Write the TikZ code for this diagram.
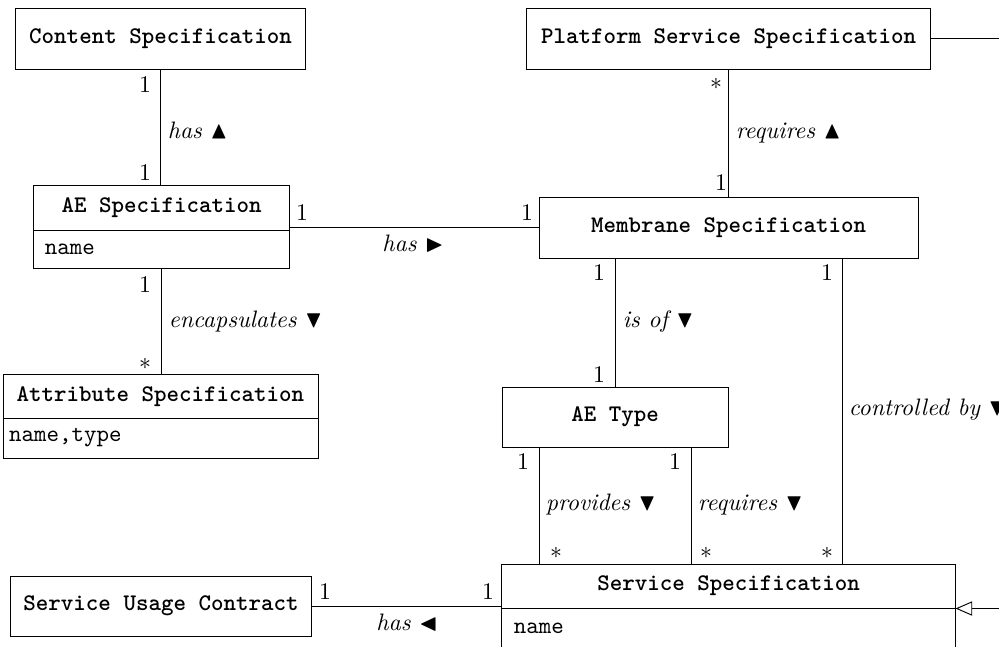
\documentclass[tikz,border=0pt]{standalone}
\usepackage{amsmath}
\usepackage{xcolor}
\usepackage{amssymb}
\usepackage{tikz}
\usetikzlibrary{arrows.meta,positioning}

\begin{document}
\begin{tikzpicture}[x=0.42pt,y=0.42pt,yscale=-1,xscale=1,
  cls/.style={draw, rectangle, font=\ttfamily\bfseries, inner sep=0pt},
  attrbox/.style={draw, rectangle, font=\ttfamily, inner ysep=0pt, inner xsep=5pt, align=left},
  role/.style={font=\itshape, anchor=west, inner sep=1pt},
  mult/.style={inner sep=0pt}]
\useasboundingbox (0,0) rectangle (999,646);
\clip (0,0) rectangle (999,646);

% classes
\node[cls, minimum width=121.4pt, minimum height=25.6pt] (cs) at (160.5,38.5) {Content Specification};
\node[cls, minimum width=169.3pt, minimum height=25.6pt] (pss) at (728.5,38.5) {Platform Service Specification};

\node[cls, minimum width=107.9pt, minimum height=18.9pt] (aes) at (161.5,207.5) {AE Specification};
\node[attrbox, text width=97.9pt, minimum height=16pt, below=-0.4pt of aes] (aesa) {name};

\node[cls, minimum width=132.3pt, minimum height=18.1pt] (ats) at (160.5,396.5) {Attribute Specification};
\node[attrbox, inner xsep=2.6pt, text width=127.1pt, minimum height=16.8pt, below=-0.4pt of ats] (atsa) {name,type};

\node[cls, minimum width=159.2pt, minimum height=25.6pt] (mem) at (728.5,227.5) {Membrane Specification};
\node[cls, minimum width=94.9pt, minimum height=25.2pt] (aet) at (615,417) {AE Type};

\node[cls, minimum width=190.3pt, minimum height=18.5pt] (sst) at (728.5,586) {Service Specification};
\node[attrbox, text width=180.3pt, minimum height=16.8pt, below=-0.4pt of sst] (ssta) {name};

\node[cls, minimum width=126.8pt, minimum height=25.2pt] (suc) at (161,606) {Service Usage Contract};

% helper points
\coordinate (prv) at (539,500);
\coordinate (req) at (691,500);
\coordinate (ctl) at (842,400);
\coordinate (gen) at (1030,300);

% associations
\draw (cs.south) -- (cs.south |- aes.north);
\draw (pss.south) -- (pss.south |- mem.north);
\draw (mem.west -| aes.east) -- (mem.west);
\draw (aesa.south) -- (aesa.south |- ats.north);
\draw (aet.north |- mem.south) -- (aet.north);
\draw (ctl |- mem.south) -- (ctl |- sst.north);
\draw (prv |- aet.south) -- (prv |- sst.north);
\draw (req |- aet.south) -- (req |- sst.north);
\draw (suc.east) -- (suc.east -| sst.west);
\draw[-{Triangle[open,length=7pt,width=6pt]}] (pss.east) -| (gen) |- (sst.south east);

% role names
\node[role] (l1) at (165,130) {has $\blacktriangle$};
\node[role] (l2) at (733,133) {requires $\blacktriangle$};
\node[role, anchor=center] (l3) at (413,244) {has $\blacktriangleright$};
\node[role] (l4) at (166,322) {encapsulates $\blacktriangledown$};
\node[role] (l5) at (620,322) {is of $\blacktriangledown$};
\node[role] (l6) at (846,410) {controlled by $\blacktriangledown$};
\node[role] (l7) at (543,505) {provides $\blacktriangledown$};
\node[role] (l8) at (695,505) {requires $\blacktriangledown$};
\node[role, anchor=center] (l9) at (407,623) {has $\blacktriangleleft$};

% multiplicities
\node[mult] (m1) at (145,85) {1};
\node[mult] (m2) at (145,173) {1};
\node[mult] (m3) at (716,84) {$*$};
\node[mult] (m4) at (721,183) {1};
\node[mult] (m5) at (302,213) {1};
\node[mult] (m6) at (527,213) {1};
\node[mult] (m7) at (145,285) {1};
\node[mult] (m8) at (145,364) {$*$};
\node[mult] (m9) at (599,273) {1};
\node[mult] (m10) at (599,375) {1};
\node[mult] (m11) at (827,273) {1};
\node[mult] (m12) at (827,553) {$*$};
\node[mult] (m13) at (523,462) {1};
\node[mult] (m14) at (556,553) {$*$};
\node[mult] (m15) at (675,462) {1};
\node[mult] (m16) at (706,553) {$*$};
\node[mult] (m17) at (325,592) {1};
\node[mult] (m18) at (488,592) {1};
\end{tikzpicture}
\end{document}
